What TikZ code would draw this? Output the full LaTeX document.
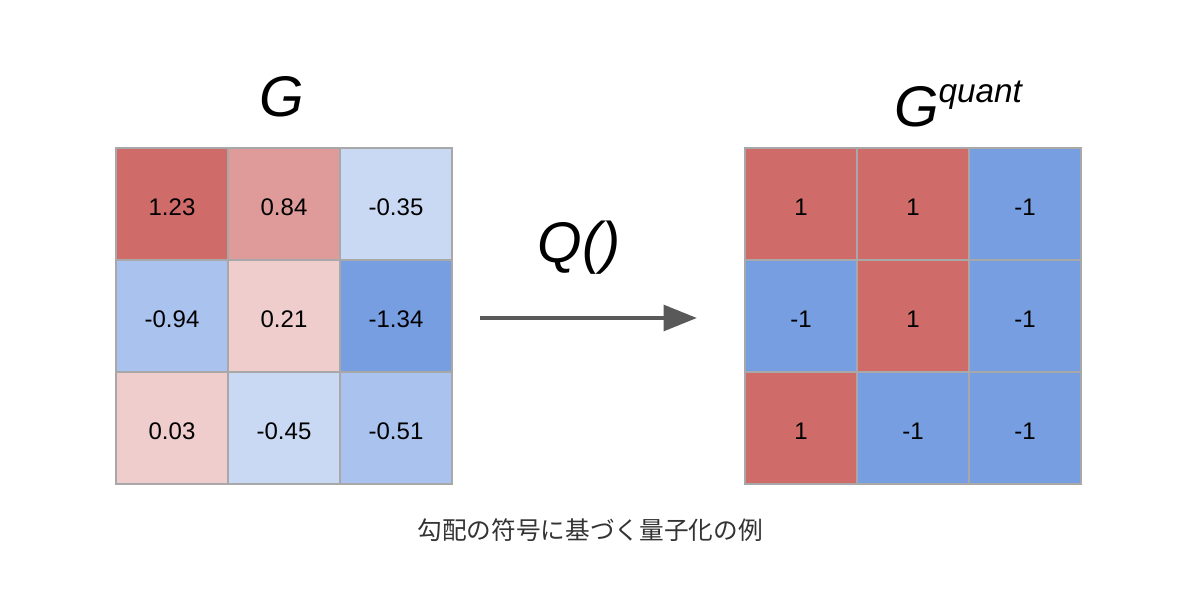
\documentclass[tikz,border=0pt]{standalone}
\usepackage{xcolor}
\usepackage{fontspec}
\setmainfont{Liberation Sans}
\newfontfamily\jpfont{Noto Sans CJK JP}
\usepackage{tikz}
\usetikzlibrary{arrows.meta, positioning}

\definecolor{redA}{HTML}{CF6B69}
\definecolor{redB}{HTML}{DE9B99}
\definecolor{redC}{HTML}{EECDCC}
\definecolor{blueA}{HTML}{789EE2}
\definecolor{blueB}{HTML}{A9C2EE}
\definecolor{blueC}{HTML}{C9D9F3}
\definecolor{gridline}{HTML}{A8A8A8}
\definecolor{arrowgray}{HTML}{595959}

\begin{document}
\begin{tikzpicture}[
    x=0.75pt, y=-0.75pt,
    cell/.style={rectangle, draw=gridline, line width=1.1pt, minimum size=84pt, inner sep=0pt, outer sep=0pt, text height=17.4pt, text depth=0pt, font=\fontsize{18}{20}\selectfont},
    title/.style={font=\fontsize{43}{48}\selectfont\itshape},
    arrow/.style={-{Triangle[length=25pt, width=19pt]}, line width=3.6pt, arrowgray},
    node distance=0pt
]
    \useasboundingbox (0,0) rectangle (1200,613);

    % Gradient G
    \node[cell, fill=redA] (a11) at (172,204) {1.23};
    \node[cell, fill=redB, right=of a11] (a12) {0.84};
    \node[cell, fill=blueC, right=of a12] (a13) {-0.35};
    \node[cell, fill=blueB, below=of a11] (a21) {-0.94};
    \node[cell, fill=redC, right=of a21] (a22) {0.21};
    \node[cell, fill=blueA, right=of a22] (a23) {-1.34};
    \node[cell, fill=redC, below=of a21] (a31) {0.03};
    \node[cell, fill=blueC, right=of a31] (a32) {-0.45};
    \node[cell, fill=blueB, right=of a32] (a33) {-0.51};

    % Quantized G
    \node[cell, fill=redA] (b11) at (801,204) {1};
    \node[cell, fill=redA, right=of b11] (b12) {1};
    \node[cell, fill=blueA, right=of b12] (b13) {-1};
    \node[cell, fill=blueA, below=of b11] (b21) {-1};
    \node[cell, fill=redA, right=of b21] (b22) {1};
    \node[cell, fill=blueA, right=of b22] (b23) {-1};
    \node[cell, fill=redA, below=of b21] (b31) {1};
    \node[cell, fill=blueA, right=of b31] (b32) {-1};
    \node[cell, fill=blueA, right=of b32] (b33) {-1};

    % Titles
    \node[title] (gtitle) at (282,97) {G};
    \node[title] (qtitle) at (958,104) {G\raisebox{18pt}{\fontsize{25}{28}\selectfont quant}};
    \node[title] (qfun) at (579,248) {Q()};

    % Arrow
    \draw[arrow, shorten <=21pt, shorten >=36pt] ([yshift=-1.5pt]a23.east) -- ([yshift=-1.5pt]b21.west);

    % Caption
    \node[font=\jpfont\fontsize{18.5}{22}\selectfont, text=black!80] (caption) at (590,530) {勾配の符号に基づく量子化の例};
\end{tikzpicture}
\end{document}
